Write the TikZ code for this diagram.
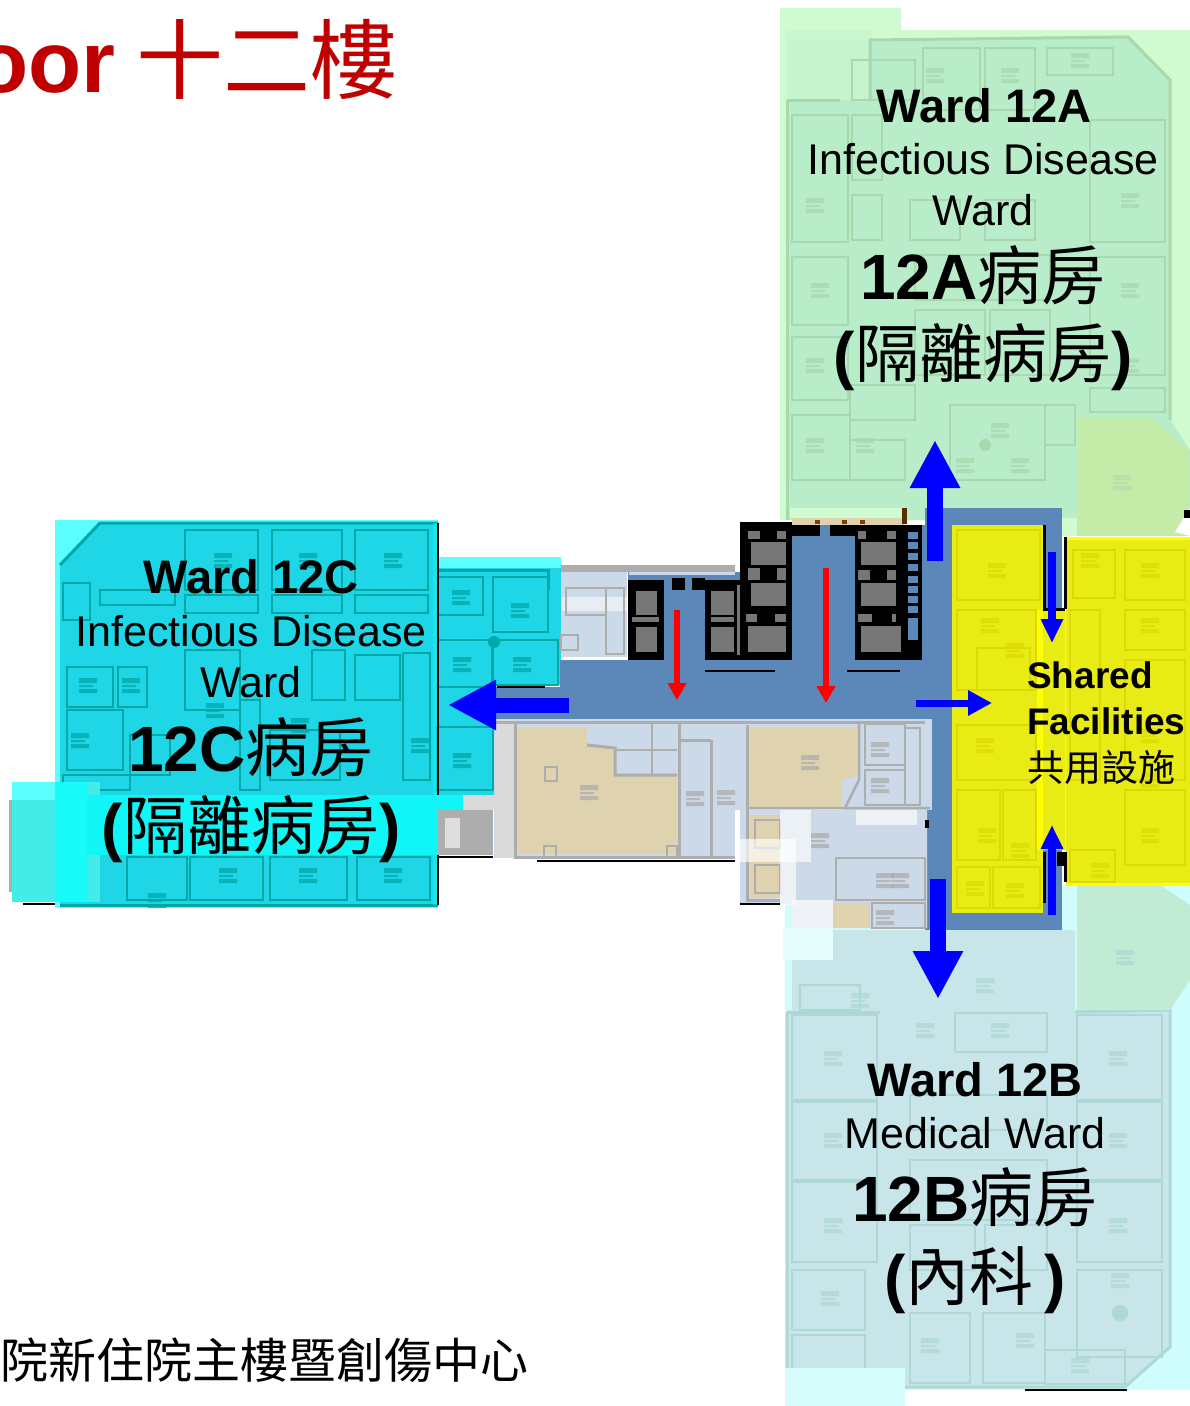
\documentclass[tikz,border=0pt]{standalone}
\usepackage{fontspec}
\setmainfont{Liberation Sans}
\newfontfamily\cjk{Noto Sans CJK TC}
\usetikzlibrary{arrows.meta}
\definecolor{bgA}{HTML}{D0FBD0}\definecolor{flA}{HTML}{B9ECC9}\definecolor{wlA}{HTML}{A8D8AE}\definecolor{hexA}{HTML}{C5EBA9}
\definecolor{bgB}{HTML}{CFFCFC}\definecolor{flB}{HTML}{C8E5E9}\definecolor{wlB}{HTML}{AED8D6}\definecolor{hexB}{HTML}{C2EBD5}
\definecolor{bgC}{HTML}{5CFFFF}\definecolor{flC}{HTML}{1ED6E6}\definecolor{wlC}{HTML}{00A8A8}
\definecolor{bandC}{HTML}{10F6F6}\definecolor{blobA}{HTML}{44ECE8}\definecolor{blobB}{HTML}{19FBF8}
\definecolor{flY}{HTML}{E9EC14}\definecolor{wlY}{HTML}{DCDA00}\definecolor{brightY}{HTML}{FFFF00}
\definecolor{corr}{HTML}{5B88B8}\definecolor{plan}{HTML}{CBD9E8}\definecolor{greyw}{HTML}{ADADAD}
\definecolor{beige}{HTML}{DED2AF}\definecolor{core}{HTML}{777777}
\definecolor{titlered}{HTML}{C00000}\definecolor{arrowblue}{HTML}{0000FF}\definecolor{arrowred}{HTML}{FF0000}
\newcommand{\roomset}[2]{\foreach \a/\b/\c/\d in {#2}{\draw[#1,line width=2.6pt] (\a,\b) rectangle (\c,\d);}}
\newcommand{\bedset}[2]{\foreach \x/\y in {#2}{\fill[#1,opacity=.75] (\x-9,\y-7) rectangle (\x+9,\y-2) (\x-9,\y) rectangle (\x+5,\y+2) (\x-9,\y+4) rectangle (\x+9,\y+8);}}
\tikzset{
  title/.style={anchor=base east,text=titlered,inner sep=0pt},
  wardname/.style={anchor=base,inner sep=0pt,font=\fontsize{47}{47}\selectfont\bfseries},
  wardtype/.style={anchor=base,inner sep=0pt,font=\fontsize{43}{43}\selectfont},
  wardcjk/.style={anchor=base,inner sep=0pt,font=\fontsize{64}{64}\selectfont},
  shared/.style={anchor=base west,inner sep=0pt,font=\fontsize{37}{37}\selectfont},
  bigarrow/.style={arrowblue,line width=16pt,-{Triangle[length=48pt,width=47pt]}},
  sidearrow/.style={arrowblue,line width=15pt,-{Triangle[length=48pt,width=47pt]}},
  thinarrow/.style={arrowblue,line width=7pt,-{Triangle[length=24pt,width=24pt]}},
  smallarrow/.style={arrowblue,line width=8pt,-{Triangle[length=24pt,width=21pt]}},
  redarrow/.style={arrowred,line width=6pt,-{Triangle[length=17pt,width=18pt]}},
}
\begin{document}
\begin{tikzpicture}[x=1pt,y=-1pt]
\useasboundingbox (0,0) rectangle (1190,1406);
\clip (0,0) rectangle (1190,1406);
\fill[white] (0,0) rectangle (1190,1406);

% ---------- Ward 12A plan
\fill[bgA] (780,8) -| (901,30) -| (1190,520) -| (780,8) -- cycle;
\fill[flA] (787,100) -- (870,100) -- (870,40) -- (1128,37) -- (1170,80) -- (1170,420) -- (1190,450) -- (1190,520) -- (787,520) -- cycle;
\fill[flA!45!bgA] (787,38) rectangle (870,100);
\fill[bgA!70!flA] (786,30) rectangle (872,40);
\draw[wlA,line width=3pt] (787,100) -- (840,100);
\draw[wlA,line width=3pt] (870,100) -- (870,40) -- (1128,37) -- (1170,80) -- (1170,420);
\draw[wlA,line width=3pt] (787,100) -- (787,520);
\roomset{wlA}{792/115/848/242,792/257/848/325,792/337/848/400,792/415/850/480,
  852/60/915/100,923/48/980/110,985/48/1035/110,1047/48/1113/75,
  1090/120/1165/242,1090/257/1165/375,1090/388/1165/412,
  852/115/882/180,852/195/882/240,910/200/960/240,985/200/1035/240,
  915/255/1050/300,915/310/985/375,990/310/1050/375,
  950/405/1045/480,1045/405/1075/445,
  850/385/915/420,850/440/905/480}
\fill[wlA] (985,445) circle (6pt);
\bedset{wlA}{815/205,820/290,815/365,815/445,935/75,1010/75,1080/60,1130/200,1130/290,1130/365,865/445,1000/430,1020/465,965/465}
\fill[bgA] (1062,518) rectangle (1190,536);
\fill[hexA] (1077,417) -- (1150,417) -- (1189,452) -- (1189,536) -- (1077,536) -- cycle;
\fill[white] (1190,508) -- (1175,532) -- (1190,536) -- cycle;
\fill[black] (1184,510) rectangle (1190,518);
\bedset{wlA!70!hexA}{1122/482}

% ---------- Ward 12B plan
\fill[bgB] (785,885) rectangle (1190,1390);
\fill[flB] (792,930) -- (1075,930) -- (1075,1010) -- (1170,1010) -- (1170,1347) -- (1125,1387) -- (787,1387) -- (787,1010) -- (792,1010) -- cycle;
\draw[wlB,line width=3pt] (787,1012) -- (880,1012);
\draw[wlB,line width=3pt] (1075,1012) -- (1170,1010) -- (1170,1347) -- (1125,1387) -- (787,1387) -- (787,1012);
\roomset{wlB}{792/1015/877/1100,792/1102/877/1180,792/1182/877/1262,792/1270/865/1330,792/1335/865/1380,
  1077/1015/1162/1100,1077/1102/1162/1180,1077/1182/1162/1262,1077/1270/1162/1357,
  955/1013/1047/1052,910/1313/970/1383,983/1313/1045/1383,1045/1350/1125/1384,
  800/985/860/1010,910/1095/1047/1130,910/1160/1047/1220,910/1225/975/1270,985/1225/1047/1270}
\fill[wlB] (1120,1313) circle (8pt);
\bedset{wlB}{833/1058,833/1140,833/1225,1118/1058,1118/1140,1118/1225,830/1298,1000/1030,925/1030,930/1345,1025/1340,1080/1365,1120/1280,860/1000,985/985}
\fill[hexB] (1077,885) -- (1160,885) -- (1190,905) -- (1190,980) -- (1170,1010) -- (1077,1010) -- cycle;
\bedset{wlB}{1125/957}
\fill[bgB!85!white] (785,1368) rectangle (905,1406);
\draw[black,line width=1.6pt] (1025,1390) -- (1127,1390);

% ---------- Ward 12C plan
\fill[bgC] (55,520) rectangle (438,908);
\fill[flC] (60,565) -- (100,523) -- (438,523) -- (438,905) -- (60,905) -- cycle;
\fill[bgC] (438,557) rectangle (561,568);
\fill[flC] (438,568) rectangle (561,685);
\fill[flC] (438,685) rectangle (494,795);
\draw[wlC,line width=3pt] (60,565) -- (100,523) -- (438,523);
\draw[wlC,line width=3pt] (438,905) -- (60,905);
\draw[wlC,line width=3pt] (438,570) -- (548,570) -- (548,590);
\roomset{wlC}{185/530/258/590,272/530/342/590,355/530/428/590,
  63/583/90/620,100/590/175/605,185/595/258/613,272/595/342/613,355/595/428/613,
  67/667/113/707,118/667/147/707,67/710/123/770,130/735/170/775,
  185/650/240/710,312/650/345/700,355/655/400/700,403/653/430/780,
  127/857/187/900,190/857/263/900,270/857/347/900,357/857/430/900,
  438/577/483/615,493/577/548/632,438/640/492/687,493/640/558/685,437/727/493/790,
  240/700/260/790,270/730/340/780,63/775/130/790}
\fill[wlC] (494,642) circle (6pt);
\bedset{wlC}{223/560,308/560,393/560,88/685,131/685,80/740,215/710,300/725,420/745,157/900,228/875,308/875,393/875,461/597,520/610,462/664,522/664,462/760}
\fill[greyw] (9,800) rectangle (60,892);
\fill[blobA] (12,782) rectangle (100,902);
\fill[bgC] (12,782) rectangle (55,800);
\fill[blobB] (55,782) rectangle (87,902);
\fill[bandC] (87,795) rectangle (438,855);
\fill[bandC] (438,795) rectangle (463,810);
\fill[bandC,opacity=.5] (433,523) rectangle (438,905);
\draw[black,line width=1.4pt] (438,523) -- (438,795) (438,855) -- (438,905);
\draw[black,line width=2.5pt] (23,904) -- (55,904);

% ---------- Upper service strip and corridors
\fill[corr] (494,687) rectangle (561,719);
\fill[corr] (560,660) rectangle (930,719);
\fill[corr] (925,508) rectangle (952,930);
\fill[corr] (925,508) rectangle (1062,530);
\fill[corr] (1043,525) rectangle (1062,615);
\fill[corr] (1043,850) rectangle (1062,930);
\fill[corr] (925,912) rectangle (1062,930);
\fill[corr] (792,525) rectangle (925,660);
\fill[corr] (664,580) rectangle (705,660);
\fill[corr] (628,572) rectangle (740,582);
\fill[greyw] (561,565) rectangle (735,572);
\fill[plan] (561,572) rectangle (627,657);
\fill[plan] (629,572) rectangle (735,575);
\fill[white,opacity=.55] (561,597) rectangle (627,611);
\roomset{greyw}{566/588/606/615,606/588/624/654,561/635/578/650}
\fill[bgA] (790,508) rectangle (902,518);
\fill[beige] (792,518) rectangle (905,525);
\fill[black!65!orange] (902,508) rectangle (907,524);
\foreach \x in {815,842,860}{\fill[black!50!orange] (\x,520) rectangle (\x+5,524);}
\draw[black,line width=2.5pt] (497,687) -- (545,687);

% ---------- Black service blocks
\fill[black] (628,580) rectangle (664,660);
\fill[black] (705,580) rectangle (740,660);
\fill[black] (740,522) rectangle (792,660);
\fill[black] (855,525) rectangle (922,660);
\fill[black] (792,525) rectangle (820,536);
\fill[black] (830,525) rectangle (855,536);
\fill[black] (672,578) rectangle (685,590);
\fill[black] (692,578) rectangle (705,590);
\foreach \a/\b/\c/\d in {636/591/657/615,636/627/657/652,711/591/734/615,711/627/734/652,
  751/542/786/565,751/583/786/606,748/626/786/652,861/542/896/565,861/583/896/606,861/626/901/652,
  748/531/760/539,777/531/786/539,748/568/760/580,777/568/786/580,746/614/757/622,775/614/786/622,
  858/531/866/539,887/531/896/539,858/570/870/580,887/570/896/580,858/614/872/622,892/614/896/622,
  632/617/659/622,711/617/734/622,737/585/740/655}
  {\fill[core] (\a,\b) rectangle (\c,\d);}
\foreach \y in {532,542,553,564,576,586,596,606}{\fill[corr] (908,\y) rectangle (918,\y+7);}
\fill[corr] (908,618) rectangle (918,640);
\draw[black,line width=2.5pt] (705,671) -- (775,671);
\draw[black,line width=2.5pt] (847,671) -- (900,671);

% ---------- Lower plan
\fill[plan] (494,719) rectangle (932,810);
\fill[plan] (494,810) rectangle (735,858);
\fill[plan] (740,810) -- (927,810) -- (927,928) -- (792,928) -- (792,904) -- (740,904) -- cycle;
\fill[greyw!45!white] (495,720) rectangle (514,858);
\fill[greyw!45!white] (463,795) rectangle (495,810);
\fill[greyw] (438,810) rectangle (493,855);
\fill[greyw!40!white] (445,818) rectangle (460,848);
\fill[beige] (517,727) -- (587,727) -- (587,745) -- (615,748) -- (615,775) -- (677,775) -- (677,854) -- (517,854) -- cycle;
\fill[beige] (747,727) -- (858,727) -- (858,775) -- (842,780) -- (842,807) -- (747,807) -- cycle;
\fill[beige] (747,815) rectangle (780,897);
\fill[beige] (833,903) rectangle (870,928);
\draw[greyw,line width=3pt] (495,722) -- (925,722);
\draw[greyw,line width=3pt] (515,722) -- (515,857) -- (735,857);
\draw[greyw,line width=3pt] (679,722) -- (679,857);
\draw[greyw,line width=3pt] (711,740) -- (711,857);
\draw[greyw,line width=3pt] (679,740) -- (711,740);
\draw[greyw,line width=3pt] (587,745) -- (615,748) -- (615,775) -- (677,775);
\draw[greyw,line width=2.5pt] (616,750) -- (677,750);
\draw[greyw,line width=2.5pt] (652,722) -- (652,775);
\draw[greyw,line width=3pt] (747,725) -- (747,900) -- (780,900);
\draw[greyw,line width=2.5pt] (859,722) -- (859,780) -- (845,808) -- (930,808);
\draw[greyw,line width=2.5pt] (747,808) -- (845,808);
\roomset{greyw}{545/767/557/781,544/846/556/858,667/846/677/858,755/820/780/848,755/865/780/893}
\roomset{greyw}{836/858/925/900,865/724/905/765,865/770/905/805,905/728/920/805}
\draw[greyw,line width=2.5pt] (872,903) rectangle (925,928);
\bedset{greyw}{589/792,695/798,726/797,810/762,880/749,880/785,820/840,885/880,900/880,885/917}
\fill[white,opacity=.65] (780,810) rectangle (811,862);
\fill[white,opacity=.65] (735,839) rectangle (796,862);
\fill[white,opacity=.65] (780,862) rectangle (796,905);
\fill[white,opacity=.65] (856,810) rectangle (917,825);
\fill[white,opacity=.7] (792,900) rectangle (833,928);
\fill[bgB!50!white] (783,928) rectangle (833,960);
\draw[black,line width=2.5pt] (438,857) -- (493,857);
\draw[black,line width=2pt] (537,861) -- (735,861);
\draw[black,line width=2.5pt] (740,904) -- (780,904);
\fill[black] (925,820) rectangle (929,828);

% ---------- Shared facilities
\fill[flY] (952,525) rectangle (1043,913);
\fill[flY] (1066,537) rectangle (1190,885);
\fill[brightY] (1037,610) rectangle (1066,850);
\fill[flY] (1043,610) rectangle (1065,850);
\draw[brightY,line width=3pt] (1066,538) -- (1190,538);
\draw[brightY,line width=3pt] (1066,884) -- (1190,884);
\roomset{wlY}{957/530/1040/600,957/610/1036/690,977/648/1030/690,957/725/1036/780,957/790/1000/860,1003/790/1036/860,957/867/990/908,993/867/1040/908,
  1073/550/1115/598,1125/550/1185/600,1070/610/1100/780,1125/610/1185/650,1125/660/1185/780,1125/790/1185/865,1070/850/1115/882}
\bedset{wlY}{997/570,990/625,1015/650,985/745,987/835,1020/850,975/888,1015/890,1090/560,1150/570,1150/625,1150/735,1150/780,1150/835,1100/870}
\draw[black,line width=3pt] (1044,525) -- (1044,609) -- (1065,609);
\draw[black,line width=3pt] (1065,537) -- (1065,609);
\fill[black] (1057,852) rectangle (1066,866);
\draw[black,line width=3pt] (1065,852) -- (1065,882);
\draw[black,line width=3pt] (1044,852) -- (1044,903);

% ---------- Arrows
\coordinate (redA0) at (677,610); \coordinate (redA1) at (677,700);
\coordinate (redB0) at (826,568); \coordinate (redB1) at (826,703);
\coordinate (west0) at (569,705); \coordinate (west1) at (448,705);
\coordinate (north0) at (935,561); \coordinate (north1) at (935,440);
\coordinate (south0) at (938,879); \coordinate (south1) at (938,999);
\coordinate (east0) at (916,703); \coordinate (east1) at (992,703);
\coordinate (sdown0) at (1052,552); \coordinate (sdown1) at (1052,643);
\coordinate (sup0) at (1052,915); \coordinate (sup1) at (1052,825);
\draw[redarrow] (redA0) -- (redA1);
\draw[redarrow] (redB0) -- (redB1);
\draw[sidearrow] (west0) -- (west1);
\draw[bigarrow] (north0) -- (north1);
\draw[bigarrow] (south0) -- (south1);
\draw[thinarrow] (east0) -- (east1);
\draw[smallarrow] (sdown0) -- (sdown1);
\draw[smallarrow] (sup0) -- (sup1);

% ---------- Title and footer
\node[title] (titletext) at (398,92) {\fontsize{87}{87}\selectfont\bfseries oor\hspace{21pt}{\mdseries\cjk 十二樓}};
\node[anchor=base west,inner sep=0pt] (footer) at (0,1378) {\fontsize{48}{48}\selectfont\cjk 院新住院主樓暨創傷中心};

% ---------- Ward labels
\node[wardname] (a1) at (984,122) {Ward 12A};
\node[wardtype] (a2) at (983,174) {Infectious Disease};
\node[wardtype] (a3) at (983,225) {Ward};
\node[wardcjk] (a4) at (983,299) {\textbf{12A}{\cjk 病房}};
\node[wardcjk] (a5) at (983,377) {\textbf{(}{\cjk 隔離病房}\textbf{)}};

\node[wardname] (c1) at (251,593) {Ward 12C};
\node[wardtype] (c2) at (251,646) {Infectious Disease};
\node[wardtype] (c3) at (251,697) {Ward};
\node[wardcjk] (c4) at (251,771) {\textbf{12C}{\cjk 病房}};
\node[wardcjk] (c5) at (251,849) {\textbf{(}{\cjk 隔離病房}\textbf{)}};

\node[wardname] (b1) at (975,1096) {Ward 12B};
\node[wardtype] (b2) at (975,1148) {Medical Ward};
\node[wardcjk] (b3) at (975,1221) {\textbf{12B}{\cjk 病房}};
\node[wardcjk] (b4) at (975,1300) {\textbf{(}{\cjk 內科}\,\textbf{)}};

\node[shared] (s1) at (1027,688) {\bfseries Shared};
\node[shared] (s2) at (1027,734) {\bfseries Facilities};
\node[shared] (s3) at (1027,781) {\cjk 共用設施};
\end{tikzpicture}
\end{document}
